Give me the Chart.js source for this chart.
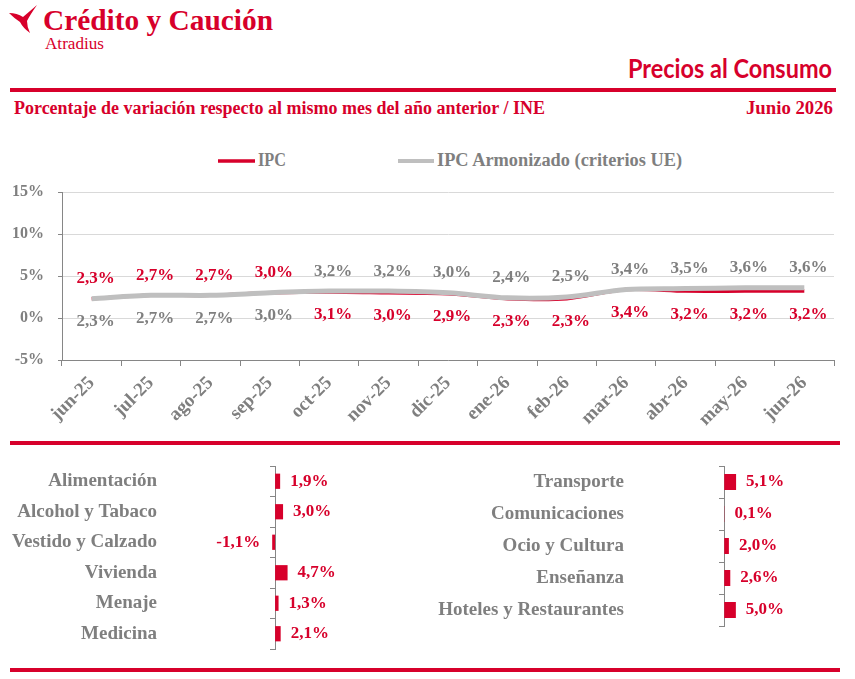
<!DOCTYPE html>
<html lang="es">
<head>
<meta charset="UTF-8">
<title>Precios al Consumo | Crédito y Caución</title>
<style>
  html, body { margin: 0; padding: 0; background: #ffffff; }
  #pagina {
    position: relative;
    width: 855px;
    height: 679px;
    overflow: hidden;
    background: #ffffff;
  }
  /* lineas rojas de separacion */
  .linea-roja { position: absolute; background: #d7002b; height: 4px; }
  #textos { position: absolute; left: 0; top: 0; }
  canvas { position: absolute; }
  #graficoLineas { left: 0; top: 130px; }
  #barrasIzq { left: 0; top: 460px; }
  #barrasDer { left: 430px; top: 460px; }
</style>
</head>
<body>
<div id="pagina">
  <svg id="textos" width="855" height="679" xmlns="http://www.w3.org/2000/svg">
    <!-- logo -->
    <path d="M9,13 Q17,13 23,17 Q30,11 37,5 Q30,15 27,21 Q27,27 30,33 Q23,28 20,22 Q15,19 9,13 Z" fill="#d7002b"/>
    <text x="43" y="30" font-family="Liberation Serif" font-weight="bold" font-size="30" fill="#d7002b"
      textLength="230" lengthAdjust="spacingAndGlyphs">Crédito y Caución</text>
    <text x="45" y="49" font-family="Liberation Serif" font-size="17" fill="#d7002b"
      textLength="59" lengthAdjust="spacingAndGlyphs">Atradius</text>
    <text x="832" y="78" text-anchor="end" font-family="Lato" font-weight="bold" font-size="26" fill="#d7002b"
      textLength="204" lengthAdjust="spacingAndGlyphs">Precios al Consumo</text>
    <text x="14" y="114" font-family="Liberation Serif" font-weight="bold" font-size="18" fill="#d7002b"
      textLength="531" lengthAdjust="spacingAndGlyphs">Porcentaje de variación respecto al mismo mes del año anterior / INE</text>
    <text x="833" y="114" text-anchor="end" font-family="Liberation Serif" font-weight="bold" font-size="18" fill="#d7002b"
      textLength="87" lengthAdjust="spacingAndGlyphs">Junio 2026</text>
    <g id="leyenda"></g>
  </svg>

  <div class="linea-roja" style="left:10px; top:88px; width:826px;"></div>
  <div class="linea-roja" style="left:10px; top:441px; width:830px;"></div>
  <div class="linea-roja" style="left:10px; top:668px; width:830px;"></div>

  <canvas id="graficoLineas" width="855" height="310"></canvas>
  <canvas id="barrasIzq" width="430" height="195"></canvas>
  <canvas id="barrasDer" width="425" height="195"></canvas>
</div>

<script src="https://cdn.jsdelivr.net/npm/chart.js"></script>
<script>
  // Datos
  const meses = ['jun-25', 'jul-25', 'ago-25', 'sep-25', 'oct-25', 'nov-25', 'dic-25',
                 'ene-26', 'feb-26', 'mar-26', 'abr-26', 'may-26', 'jun-26'];
  const ipc = [2.3, 2.7, 2.7, 3.0, 3.1, 3.0, 2.9, 2.3, 2.3, 3.4, 3.2, 3.2, 3.2];
  const ipcArmonizado = [2.3, 2.7, 2.7, 3.0, 3.2, 3.2, 3.0, 2.4, 2.5, 3.4, 3.5, 3.6, 3.6];
  const nombresSeries = ['IPC', 'IPC Armonizado (criterios UE)'];
  const ticksPorcentaje = [-5, 0, 5, 10, 15];
  // en que meses la etiqueta del IPC va encima de la linea
  const ipcEtiquetaArriba = [true, true, true, true, false, false, false, false, false, false, false, false, false];

  const gruposIzq = ['Alimentación', 'Alcohol y Tabaco', 'Vestido y Calzado', 'Vivienda', 'Menaje', 'Medicina'];
  const variacionIzq = [1.9, 3.0, -1.1, 4.7, 1.3, 2.1];
  const gruposDer = ['Transporte', 'Comunicaciones', 'Ocio y Cultura', 'Enseñanza', 'Hoteles y Restaurantes'];
  const variacionDer = [5.1, 0.1, 2.0, 2.6, 5.0];

  const ROJO = '#d7002b';
  const GRIS_TEXTO = '#7f7f7f';
  const GRIS_LINEA = '#bfbfbf';
  const GRIS_EJE = '#868686';
  const FUENTE = 'Liberation Serif';

  function formatoPct(v) {
    return v.toFixed(1).replace('.', ',') + '%';
  }

  // Leyenda en el svg, a partir de los nombres de las series
  function dibujarLeyenda() {
    const g = document.getElementById('leyenda');
    const items = [
      { x: 218, ancho: 37, grosor: 3.5, color: ROJO, texto: nombresSeries[0], largo: 28 },
      { x: 398, ancho: 36, grosor: 4, color: GRIS_LINEA, texto: nombresSeries[1], largo: 245 }
    ];
    const ns = 'http://www.w3.org/2000/svg';
    items.forEach(it => {
      const r = document.createElementNS(ns, 'rect');
      r.setAttribute('x', it.x);
      r.setAttribute('y', 161 - it.grosor / 2);
      r.setAttribute('width', it.ancho);
      r.setAttribute('height', it.grosor);
      r.setAttribute('fill', it.color);
      g.appendChild(r);
      const t = document.createElementNS(ns, 'text');
      t.setAttribute('x', it.x + it.ancho + 3);
      t.setAttribute('y', 166);
      t.setAttribute('font-family', FUENTE);
      t.setAttribute('font-weight', 'bold');
      t.setAttribute('font-size', '18');
      t.setAttribute('fill', GRIS_TEXTO);
      t.setAttribute('textLength', it.largo);
      t.setAttribute('lengthAdjust', 'spacingAndGlyphs');
      t.textContent = it.texto;
      g.appendChild(t);
    });
  }

  // Etiquetas de valor sobre / bajo las lineas
  const etiquetasLinea = {
    id: 'etiquetasLinea',
    afterDatasetsDraw(chart) {
      const ctx = chart.ctx;
      ctx.save();
      ctx.font = 'bold 17px "' + FUENTE + '"';
      ctx.textAlign = 'center';
      ctx.textBaseline = 'middle';
      chart.data.datasets.forEach((ds, i) => {
        const meta = chart.getDatasetMeta(i);
        const esIPC = i === 0;
        ctx.fillStyle = esIPC ? ROJO : GRIS_TEXTO;
        meta.data.forEach((pt, j) => {
          const arriba = esIPC ? ipcEtiquetaArriba[j] : !ipcEtiquetaArriba[j];
          ctx.fillText(formatoPct(ds.data[j]), pt.x + 4, arriba ? pt.y - 20 : pt.y + 23);
        });
      });
      ctx.restore();
    }
  };

  // Etiquetas al final de cada barra
  const etiquetasBarra = {
    id: 'etiquetasBarra',
    afterDatasetsDraw(chart) {
      const ctx = chart.ctx;
      ctx.save();
      ctx.font = 'bold 17px "' + FUENTE + '"';
      ctx.textBaseline = 'middle';
      ctx.fillStyle = ROJO;
      const ds = chart.data.datasets[0];
      chart.getDatasetMeta(0).data.forEach((barra, j) => {
        const v = ds.data[j];
        if (v < 0) {
          ctx.textAlign = 'right';
          ctx.fillText(formatoPct(v), barra.x - 12, barra.y);
        } else {
          ctx.textAlign = 'left';
          ctx.fillText(formatoPct(v), barra.x + 10, barra.y);
        }
      });
      ctx.restore();
    }
  };

  function crearGraficoLineas() {
    const ctx = document.getElementById('graficoLineas').getContext('2d');
    new Chart(ctx, {
      type: 'line',
      data: {
        labels: meses,
        datasets: [
          {
            label: nombresSeries[0],
            data: ipc,
            borderColor: ROJO,
            borderWidth: 3.5,
            pointRadius: 0,
            tension: 0.3,
            order: 1
          },
          {
            label: nombresSeries[1],
            data: ipcArmonizado,
            borderColor: GRIS_LINEA,
            borderWidth: 5,
            pointRadius: 0,
            tension: 0.3,
            order: 0
          }
        ]
      },
      options: {
        responsive: false,
        animation: false,
        layout: { padding: { top: 62, right: 21, left: 0, bottom: 0 } },
        plugins: { legend: { display: false }, tooltip: { enabled: false } },
        scales: {
          x: {
            offset: true,
            grid: { offset: true, drawOnChartArea: false, drawTicks: true, tickLength: 6, tickColor: GRIS_EJE },
            border: { color: GRIS_EJE },
            ticks: {
              autoSkip: false,
              minRotation: 45,
              maxRotation: 45,
              padding: 6,
              color: GRIS_TEXTO,
              font: { family: FUENTE, weight: 'bold', size: 19 }
            },
            afterFit(scale) { scale.height = 80; }
          },
          y: {
            min: ticksPorcentaje[0],
            max: ticksPorcentaje[ticksPorcentaje.length - 1],
            grid: { color: '#d9d9d9', tickLength: 4, tickColor: GRIS_EJE },
            border: { color: GRIS_EJE },
            ticks: {
              stepSize: ticksPorcentaje[1] - ticksPorcentaje[0],
              padding: 14,
              color: GRIS_TEXTO,
              font: { family: FUENTE, weight: 'bold', size: 16 },
              callback: v => v + '%'
            },
            afterFit(scale) { scale.width = 62; }
          }
        }
      },
      plugins: [etiquetasLinea]
    });
  }

  // Barras horizontales de grupos; el eje de categorias cruza en 0
  function crearBarras(canvasId, grupos, valores, cfg) {
    const ctx = document.getElementById(canvasId).getContext('2d');
    new Chart(ctx, {
      type: 'bar',
      data: {
        labels: grupos,
        datasets: [{
          data: valores,
          backgroundColor: ROJO,
          barPercentage: 0.5,
          categoryPercentage: 1,
          yAxisID: 'y'
        }]
      },
      options: {
        indexAxis: 'y',
        responsive: false,
        animation: false,
        layout: { padding: { top: 6, bottom: cfg.abajo, left: 0, right: cfg.derecha } },
        plugins: { legend: { display: false }, tooltip: { enabled: false } },
        scales: {
          x: { type: 'linear', min: cfg.min, max: cfg.max, display: false },
          etiquetas: {
            axis: 'y',
            type: 'category',
            position: 'left',
            offset: true,
            grid: { display: false, drawTicks: false },
            border: { display: false },
            ticks: {
              padding: 12,
              color: GRIS_TEXTO,
              font: { family: FUENTE, weight: 'bold', size: 19 }
            },
            afterFit(scale) {
              // ancho fijo y sin margen extra arriba/abajo
              scale.width = cfg.anchoEtiquetas;
              scale.paddingTop = 0;
              scale.paddingBottom = 0;
            }
          },
          y: {
            type: 'category',
            position: { x: 0 },
            offset: true,
            grid: { offset: true, drawOnChartArea: false, drawTicks: true, tickLength: 5, tickColor: GRIS_EJE },
            border: { color: GRIS_EJE },
            ticks: { display: false },
            afterFit(scale) {
              scale.paddingTop = 0;
              scale.paddingBottom = 0;
            }
          }
        }
      },
      plugins: [etiquetasBarra]
    });
  }

  dibujarLeyenda();
  crearGraficoLineas();
  crearBarras('barrasIzq', gruposIzq, variacionIzq, { min: -40, max: 55, anchoEtiquetas: 169, derecha: 9, abajo: 6 });
  crearBarras('barrasDer', gruposDer, variacionDer, { min: -38, max: 52, anchoEtiquetas: 206, derecha: 10, abajo: 29 });
</script>
</body>
</html>
